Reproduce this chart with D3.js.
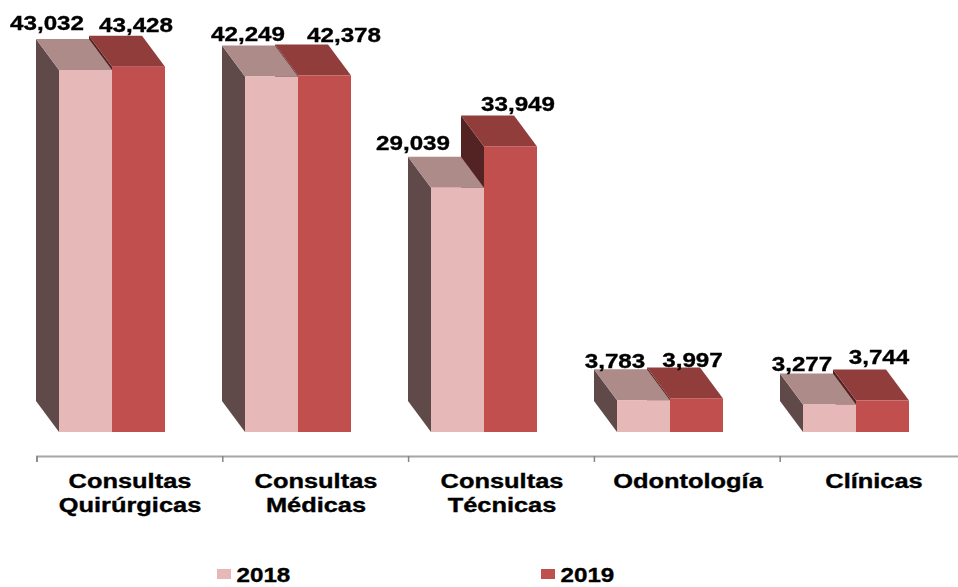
<!DOCTYPE html>
<html>
<head>
<meta charset="utf-8">
<script src="https://cdn.jsdelivr.net/npm/d3@7"></script>
<style>
  html, body { margin: 0; padding: 0; background: #fff; }
  svg { display: block; }
  text { font-family: "Liberation Sans", Arial, sans-serif; font-weight: bold; fill: #000; stroke: #000; stroke-width: 0.35px; }
</style>
</head>
<body>
<div id="chart"></div>
<script>
// chart values
const categories = ["Consultas Quirúrgicas", "Consultas Médicas", "Consultas Técnicas", "Odontología", "Clínicas"];
const years = ["2018", "2019"];
const values2018 = [43032, 42249, 29039, 3783, 3277];
const values2019 = [43428, 42378, 33949, 3997, 3744];

// hand placed labels, the original chart had them dragged around
const labelNudge2018 = [[-38.5, -40], [-23.5, -36], [-44.5, -38], [-28.5, -32], [-27.5, -33]];
const labelNudge2019 = [[-2.5, -35], [19.5, -34], [7.5, -35.5], [-4, -31], [-3.5, -36.5]];

const width = 958;
const height = 587;
const baseY = 432;
const axisY = 456;
const depthX = 23;
const depthY = 31;

const colors = {
    "2018": {front: "#E6B8B7", top: "#AD8B89", side: "#5E4A49"},
    "2019": {front: "#C0504D", top: "#903C3A", side: "#532220"}
};

const svg = d3.select("#chart").append("svg")
    .attr("width", width)
    .attr("height", height);

// the source is a slightly soft screenshot
const defs = svg.append("defs");
defs.append("filter").attr("id", "soft")
    .append("feGaussianBlur").attr("stdDeviation", 0.45);

// scales
const x0 = d3.scaleBand().domain(categories).range([37, 967]);
const x1 = d3.scaleBand().domain(years).range([22, 128]);
const y = d3.scaleLinear().domain([0, 43032]).range([baseY, 70]);

const rows = categories.map((c, i) => ({
    category: c,
    bars: [
        {year: "2019", value: values2019[i], nudge: labelNudge2019[i]},
        {year: "2018", value: values2018[i], nudge: labelNudge2018[i]}
    ]
}));

const poly = pts => pts.map(p => p.join(",")).join(" ");

// bars, 2019 goes first so the 2018 top hides the part of its side behind it
const marks = svg.append("g").attr("filter", "url(#soft)");
const groups = marks.selectAll("g")
    .data(rows)
    .enter()
    .append("g")
    .attr("transform", d => "translate(" + x0(d.category) + ",0)");

const bars = groups.selectAll("g")
    .data(d => d.bars)
    .enter()
    .append("g");

bars.append("polygon")
    .attr("fill", d => colors[d.year].side)
    .attr("points", d => {
        const l = x1(d.year), t = y(d.value);
        return poly([[l, t], [l - depthX, t - depthY], [l - depthX, baseY - depthY], [l, baseY]]);
    });

bars.append("polygon")
    .attr("fill", d => colors[d.year].top)
    .attr("points", d => {
        const l = x1(d.year), r = l + x1.bandwidth(), t = y(d.value);
        return poly([[l, t], [l - depthX, t - depthY], [r - depthX, t - depthY], [r, t]]);
    });

bars.append("rect")
    .attr("fill", d => colors[d.year].front)
    .attr("x", d => x1(d.year))
    .attr("y", d => y(d.value))
    .attr("width", x1.bandwidth())
    .attr("height", d => baseY - y(d.value));

// value labels
const labels = svg.append("g");
rows.forEach(r => {
    r.bars.forEach(b => {
        labels.append("text")
            .attr("text-anchor", "middle")
            .attr("font-size", 20)
            .attr("transform", "translate(" +
                (x0(r.category) + x1(b.year) + x1.bandwidth() / 2 + b.nudge[0]) + "," +
                (y(b.value) + b.nudge[1]) + ") scale(1.21,1)")
            .text(d3.format(",")(b.value));
    });
});

// axis line and ticks at the band edges
const edges = d3.scaleLinear().domain([0, categories.length]).range([36.5, 965.5]);
const tickAxis = svg.append("g")
    .attr("transform", "translate(0," + axisY + ")")
    .call(d3.axisBottom(edges).ticks(categories.length).tickSize(6).tickFormat(""));
tickAxis.select(".domain").attr("stroke", "#A6A6A6").attr("stroke-width", 2);
tickAxis.selectAll(".tick line").attr("stroke", "#868686").attr("stroke-width", 1.5);

// category labels
const labelAxis = svg.append("g")
    .attr("transform", "translate(0," + axisY + ")")
    .call(d3.axisBottom(x0).tickSize(0));
labelAxis.select(".domain").remove();
labelAxis.selectAll(".tick text")
    .attr("font-size", 20)
    .attr("font-family", null)
    .attr("transform", "scale(1.27,1)")
    .each(function(d) {
        const txt = d3.select(this).text("").attr("y", null).attr("dy", null);
        d.split(" ").forEach((word, i) => {
            txt.append("tspan").attr("x", 0).attr("y", 32.5 + i * 23.5).text(word);
        });
    });

// legend
const legendX = d3.scaleOrdinal().domain(years).range([217, 541]);
const legend = svg.append("g").selectAll("g")
    .data(years)
    .enter()
    .append("g")
    .attr("transform", d => "translate(" + legendX(d) + ",569)");
legend.append("rect")
    .attr("width", 14)
    .attr("height", 10)
    .attr("fill", d => colors[d].front);
legend.append("text")
    .attr("font-size", 20)
    .attr("transform", "translate(19.5,13) scale(1.21,1)")
    .text(d => d);
</script>
</body>
</html>
